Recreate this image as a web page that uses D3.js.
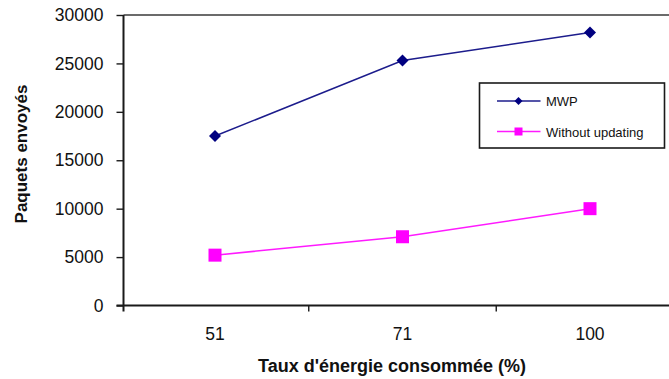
<!DOCTYPE html>
<html>
<head>
<meta charset="utf-8">
<script src="https://cdn.jsdelivr.net/npm/d3@7"></script>
<style>
  html, body { margin: 0; padding: 0; background: #fff; }
  svg { display: block; }
  text { font-family: "Liberation Sans", Arial, sans-serif; fill: #111; }
</style>
</head>
<body>
<svg id="chart" width="669" height="379"></svg>
<script>
// Energy consumed (%) categories and packets sent for each strategy
const categories = ["51", "71", "100"];
const mwpValues = [17500, 25300, 28200];
const withoutUpdatingValues = [5200, 7100, 10000];
const yTicks = [0, 5000, 10000, 15000, 20000, 25000, 30000];
const seriesNames = ["MWP", "Without updating"];

const svg = d3.select("#chart");

const plot = { left: 123.5, top: 15, bottom: 305.5, bandStart: 121.25, bandWidth: 187.5 };

const x = d3.scaleBand()
  .domain(categories)
  .range([plot.bandStart, plot.bandStart + plot.bandWidth * categories.length])
  .padding(0);

const y = d3.scaleLinear().domain([0, 30000]).range([plot.bottom, plot.top]);

const cx = c => x(c) + x.bandwidth() / 2;

// Plot frame top edge (the rest of the frame runs past the right edge)
svg.append("line")
  .attr("x1", plot.left).attr("x2", 669)
  .attr("y1", plot.top).attr("y2", plot.top)
  .attr("stroke", "#3a3a3a").attr("stroke-width", 1.6);

// Y axis
const yAxis = svg.append("g")
  .attr("transform", `translate(${plot.left},0)`)
  .call(d3.axisLeft(y).tickValues(yTicks).tickSize(7).tickPadding(13).tickFormat(d3.format("d")));
yAxis.select(".domain").attr("stroke", "#1a1a1a").attr("stroke-width", 2)
  .attr("d", `M0,${plot.top}V${plot.bottom + 6}`);
yAxis.selectAll(".tick line").attr("stroke", "#1a1a1a").attr("stroke-width", 1.4);
yAxis.selectAll(".tick text")
  .style("font-size", "17.5px")
  .style("font-family", "'Liberation Sans', Arial, sans-serif")
  .attr("fill", "#1a1a1a");

// X axis: category labels centred in bands, tick marks on band boundaries
const xAxis = svg.append("g")
  .attr("transform", `translate(0,${plot.bottom})`)
  .call(d3.axisBottom(x).tickSize(0).tickPadding(22));
xAxis.select(".domain").attr("stroke", "#1a1a1a").attr("stroke-width", 2)
  .attr("d", `M${plot.left - 7},0H669`);
xAxis.selectAll(".tick text")
  .style("font-size", "17.5px")
  .style("font-family", "'Liberation Sans', Arial, sans-serif")
  .attr("fill", "#1a1a1a");
xAxis.selectAll(".boundary")
  .data(categories.slice(1))
  .enter().append("line")
  .attr("class", "boundary")
  .attr("x1", d => x(d)).attr("x2", d => x(d))
  .attr("y1", 0).attr("y2", 6)
  .attr("stroke", "#1a1a1a").attr("stroke-width", 1.4);

// Axis titles
svg.append("text")
  .attr("x", 392).attr("y", 371.5)
  .attr("text-anchor", "middle")
  .style("font-size", "18px").style("font-weight", "bold")
  .text("Taux d'énergie consommée (%)");

svg.append("text")
  .attr("transform", "translate(27,154) rotate(-90)")
  .attr("text-anchor", "middle")
  .style("font-size", "17px").style("font-weight", "bold")
  .text("Paquets envoyés");

// Series
const line = d3.line().x(d => cx(d.c)).y(d => y(d.v));
const mwp = categories.map((c, i) => ({ c, v: mwpValues[i] }));
const wu = categories.map((c, i) => ({ c, v: withoutUpdatingValues[i] }));

svg.append("path").datum(mwp).attr("d", line)
  .attr("fill", "none").attr("stroke", "#1c1c8c").attr("stroke-width", 1.5);
svg.append("path").datum(wu).attr("d", line)
  .attr("fill", "none").attr("stroke", "#ff1aff").attr("stroke-width", 1.5);

const diamond = s => `M0,${-s}L${s},0L0,${s}L${-s},0Z`;

svg.selectAll(".mwp-pt").data(mwp).enter().append("path")
  .attr("class", "mwp-pt")
  .attr("transform", d => `translate(${cx(d.c)},${y(d.v)})`)
  .attr("d", diamond(6)).attr("fill", "#000080");

svg.selectAll(".wu-pt").data(wu).enter().append("rect")
  .attr("class", "wu-pt")
  .attr("x", d => cx(d.c) - 6.5).attr("y", d => y(d.v) - 6.5)
  .attr("width", 13).attr("height", 13).attr("fill", "#ff00ff");

// Legend
const legend = svg.append("g");
legend.append("rect")
  .attr("x", 479.5).attr("y", 83).attr("width", 185).attr("height", 65)
  .attr("fill", "#fff").attr("stroke", "#1a1a1a").attr("stroke-width", 1.6);

const legendRows = [
  { name: seriesNames[0], y: 101, color: "#1c1c8c", marker: "diamond" },
  { name: seriesNames[1], y: 131.5, color: "#ff1aff", marker: "square" }
];
legendRows.forEach(r => {
  legend.append("line")
    .attr("x1", 497).attr("x2", 540.5).attr("y1", r.y).attr("y2", r.y)
    .attr("stroke", r.color).attr("stroke-width", 1.5);
  if (r.marker === "diamond") {
    legend.append("path").attr("transform", `translate(518.5,${r.y})`)
      .attr("d", diamond(4)).attr("fill", "#000080");
  } else {
    legend.append("rect").attr("x", 514.5).attr("y", r.y - 4)
      .attr("width", 8).attr("height", 8).attr("fill", "#ff00ff");
  }
  legend.append("text")
    .attr("x", 546).attr("y", r.y + 5)
    .style("font-size", "13px")
    .text(r.name);
});
</script>
</body>
</html>
